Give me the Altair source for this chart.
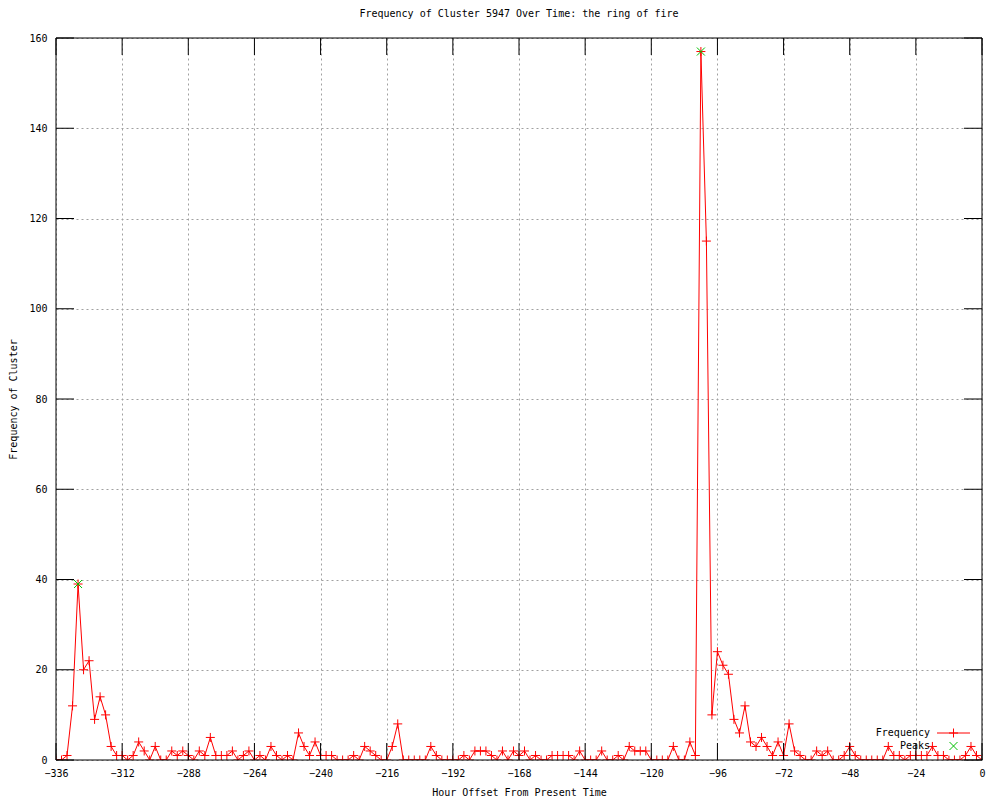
import altair as alt
import pandas as pd

# ---- data ----
hours = list(range(-336, 1, 2))
frequency = [
    0, 0, 1, 12, 39, 20,
    22, 9, 14, 10, 3, 1,
    1, 0, 1, 4, 2, 0,
    3, 0, 0, 2, 1, 2,
    1, 0, 2, 1, 5, 1,
    1, 1, 2, 0, 1, 2,
    0, 1, 0, 3, 1, 0,
    1, 0, 6, 3, 1, 4,
    1, 1, 1, 0, 0, 0,
    1, 0, 3, 2, 1, 0,
    0, 3, 8, 0, 0, 0,
    0, 0, 3, 1, 0, 0,
    0, 0, 1, 0, 2, 2,
    2, 1, 0, 2, 0, 2,
    1, 2, 0, 1, 0, 0,
    1, 1, 1, 1, 0, 2,
    0, 0, 0, 2, 0, 0,
    1, 0, 3, 2, 2, 2,
    0, 0, 0, 0, 3, 0,
    0, 4, 1, 157, 115, 10,
    24, 21, 19, 9, 6, 12,
    4, 3, 5, 3, 1, 4,
    1, 8, 2, 1, 0, 0,
    2, 1, 2, 0, 0, 1,
    3, 1, 0, 0, 0, 0,
    0, 3, 1, 1, 0, 1,
    1, 1, 1, 3, 1, 1,
    0, 0, 0, 1, 3, 1,
    0,
]
peak_hours = [-328, -102]
peak_values = [39, 157]
x_ticks = [-336, -312, -288, -264, -240, -216, -192, -168, -144, -120, -96, -72, -48, -24, 0]
y_ticks = [0, 20, 40, 60, 80, 100, 120, 140, 160]
legend_labels = ["Frequency", "Peaks"]
title_text = "Frequency of Cluster 5947 Over Time: the ring of fire"
x_title = "Hour Offset From Present Time"
y_title = "Frequency of Cluster"

# ---- layout / style ----
W, H = 926, 722
FONT = "DejaVu Sans Mono"
FS = 10
RED = "#ff0000"
GREEN = "#00c000"
PLUS = "M-1,0L1,0M0,-1L0,1"
CROSS = "M-1,-1L1,1M-1,1L1,-1"
TICK = 17

df = pd.DataFrame({"hour": hours, "freq": frequency})
peaks = pd.DataFrame({"hour": peak_hours, "freq": peak_values})
xt = pd.DataFrame({"hour": x_ticks})
yt = pd.DataFrame({"freq": y_ticks})
one = pd.DataFrame({"a": [0]})

xs = alt.Scale(domain=[-336, 0], nice=False, zero=False)
ys = alt.Scale(domain=[0, 160], nice=False, zero=False)

x_axis = alt.Axis(
    values=x_ticks, title=x_title, grid=True, gridDash=[2, 3], gridColor="#a0a0a0",
    gridOpacity=1, ticks=False, tickSize=0, domain=False, labelPadding=8,
    labelFont=FONT, labelFontSize=FS, labelColor="black", labelFlush=False,
    labelOverlap=False, titleFont=FONT, titleFontSize=FS, titleFontWeight="normal",
    titleColor="black", titleX=W / 2, titleY=32, titleBaseline="middle", titleAlign="center",
)
y_axis = alt.Axis(
    values=y_ticks, title=y_title, grid=True, gridDash=[2, 3], gridColor="#a0a0a0",
    gridOpacity=1, ticks=False, tickSize=0, domain=False, labelPadding=9,
    labelFont=FONT, labelFontSize=FS, labelColor="black", labelOverlap=False,
    titleFont=FONT, titleFontSize=FS, titleFontWeight="normal", titleColor="black",
    titleAngle=270, titleX=-43, titleY=H / 2, titleBaseline="middle", titleAlign="center",
)

X = alt.X("hour:Q", scale=xs, axis=x_axis)
Y = alt.Y("freq:Q", scale=ys, axis=y_axis)

line = alt.Chart(df).mark_line(color=RED, strokeWidth=1, clip=True).encode(x=X, y=Y)
pts = alt.Chart(df).mark_point(
    shape=PLUS, size=81, color=RED, strokeWidth=1, filled=False, opacity=1, clip=True
).encode(x=X, y=Y)
pk = alt.Chart(peaks).mark_point(
    shape=CROSS, size=64, color=GREEN, strokeWidth=1, filled=False, opacity=1, clip=True
).encode(x=X, y=Y)

# inward ticks on all four borders
bt = alt.Chart(xt).mark_rule(color="black", strokeWidth=1).encode(
    x=X, y=alt.value(H), y2=alt.value(H - TICK))
tt = alt.Chart(xt).mark_rule(color="black", strokeWidth=1).encode(
    x=X, y=alt.value(0), y2=alt.value(TICK))
lt = alt.Chart(yt).mark_rule(color="black", strokeWidth=1).encode(
    y=Y, x=alt.value(0), x2=alt.value(TICK + 1))
rt = alt.Chart(yt).mark_rule(color="black", strokeWidth=1).encode(
    y=Y, x=alt.value(W), x2=alt.value(W - TICK - 1))

border = alt.Chart(one).mark_rect(fillOpacity=0, stroke="black", strokeWidth=1).encode(
    x=alt.value(0), x2=alt.value(W), y=alt.value(0), y2=alt.value(H))

# gnuplot-style key (text left of sample), bottom right inside the plot
KX, KY1, KY2 = 874, 695, 708
leg1 = alt.Chart(pd.DataFrame({"label": [legend_labels[0]]})).mark_text(
    font=FONT, fontSize=FS, align="right", baseline="middle", color="black").encode(
    text="label:N", x=alt.value(KX), y=alt.value(KY1))
leg2 = alt.Chart(pd.DataFrame({"label": [legend_labels[1]]})).mark_text(
    font=FONT, fontSize=FS, align="right", baseline="middle", color="black").encode(
    text="label:N", x=alt.value(KX), y=alt.value(KY2))
leg_line = alt.Chart(one).mark_rule(color=RED, strokeWidth=1).encode(
    x=alt.value(KX + 7), x2=alt.value(KX + 40), y=alt.value(KY1))
leg_plus = alt.Chart(one).mark_point(shape=PLUS, size=81, color=RED, strokeWidth=1,
                                     filled=False, opacity=1).encode(
    x=alt.value(KX + 23.5), y=alt.value(KY1))
leg_x = alt.Chart(one).mark_point(shape=CROSS, size=64, color=GREEN, strokeWidth=1,
                                  filled=False, opacity=1).encode(
    x=alt.value(KX + 23.5), y=alt.value(KY2))

chart = alt.layer(
    line, pts, pk, bt, tt, lt, rt, border, leg1, leg2, leg_line, leg_plus, leg_x
).properties(
    width=W,
    height=H,
    title=alt.TitleParams(title_text, font=FONT, fontSize=FS, fontWeight="normal",
                          color="black", anchor="middle", offset=14),
    autosize=alt.AutoSizeParams(type="none"),
    padding={"left": 48, "top": 30, "right": 8, "bottom": 40},
    background="white",
).configure_view(stroke=None)

chart.save("out.html", embed_options={"renderer": "svg", "actions": False})
